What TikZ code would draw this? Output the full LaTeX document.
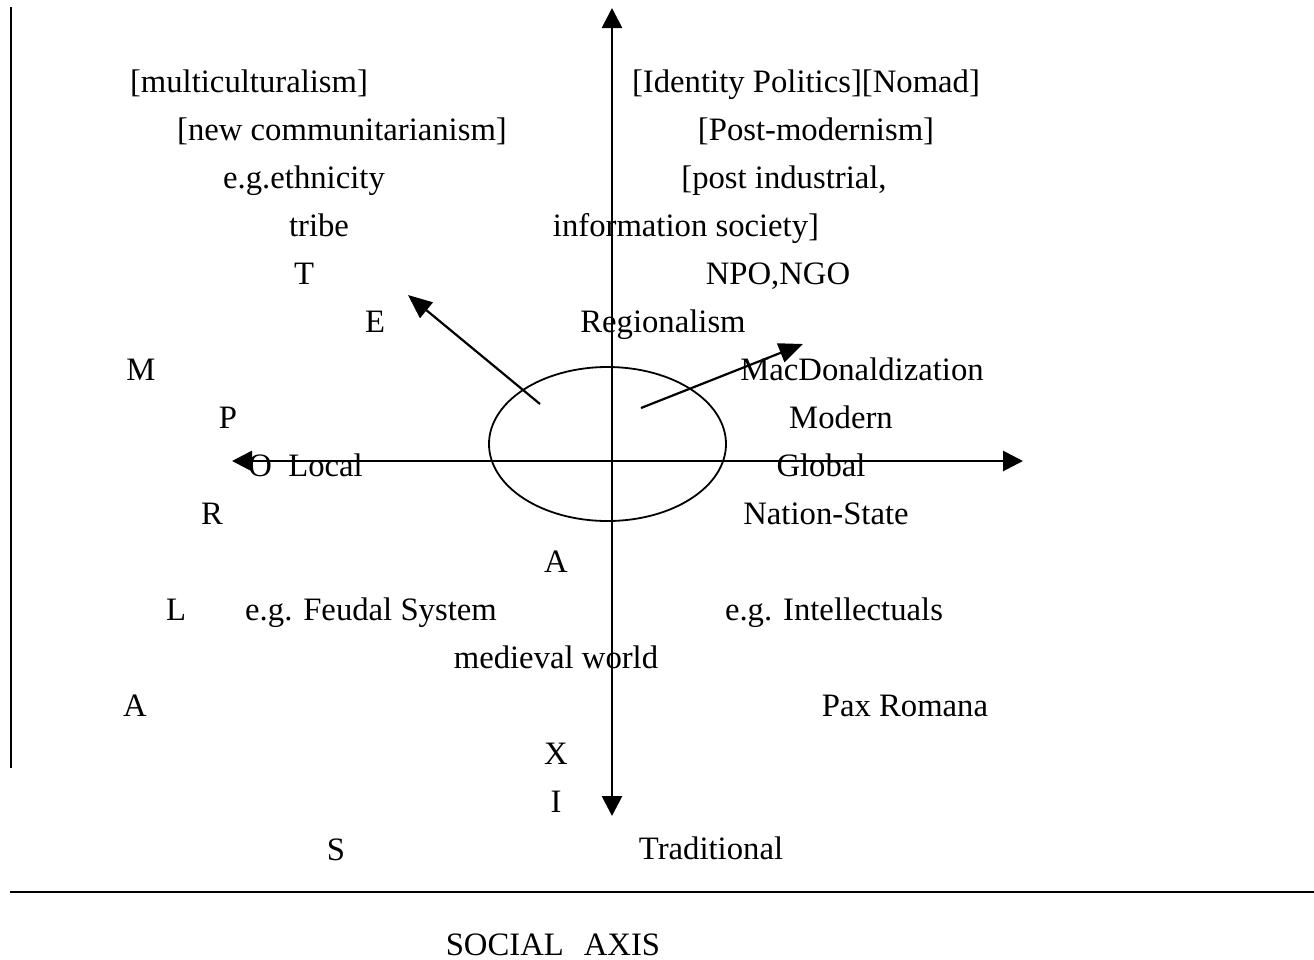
\documentclass[tikz,border=0pt]{standalone}
\usepackage{fontspec}
\setmainfont{Liberation Serif}
\usepackage{tikz}
\usetikzlibrary{arrows.meta, shapes.geometric}

\begin{document}
\begin{tikzpicture}[
  x=0.5pt, y=-0.5pt,
  lbl/.style={anchor=base, inner sep=0pt, font=\fontsize{16.35}{19}\selectfont},
  axis/.style={line width=1.4pt, -{Triangle[length=10pt, width=10pt]}},
  arr/.style={line width=1.1pt, -{Triangle[length=12pt, width=10pt]}},
  rule/.style={line width=1.4pt}
]
  \useasboundingbox (0,0) rectangle (1314,960);

  % frame lines
  \coordinate (ltop) at (11,7);
  \coordinate (lbot) at (11,768);
  \coordinate (rleft) at (10,892);
  \coordinate (rright) at (1314,892);
  \draw[rule] (ltop) -- (lbot);
  \draw[rule] (rleft) -- (rright);

  % axes
  \coordinate (origin) at (612,461);
  \coordinate (vtop) at (612,8);
  \coordinate (vbot) at (612,816);
  \coordinate (hleft) at (232,461);
  \coordinate (hright) at (1023,461);
  \draw[axis] (origin) -- (vtop);
  \draw[axis] (origin) -- (vbot);
  \draw[axis] (origin) -- (hleft);
  \draw[axis] (origin) -- (hright);

  \node[ellipse, draw, line width=0.9pt, inner sep=0pt,
    minimum width=118.5pt, minimum height=77pt] (core) at (607.5,444) {};

  \coordinate (upleft) at (540,404);
  \coordinate (upleftTip) at (408,295);
  \coordinate (upright) at (641,408);
  \coordinate (uprightTip) at (803,344);
  \draw[arr] (upleft) -- (upleftTip);
  \draw[arr] (upright) -- (uprightTip);

  % left side
  \node[lbl] (multi) at (249,92) {[multiculturalism]};
  \node[lbl] (commun) at (342,140) {[new communitarianism]};
  \node[lbl] (ethnic) at (304,188) {e.g.ethnicity};
  \node[lbl] (tribe) at (319,236) {tribe};
  \node[lbl] (tT) at (304,284) {T};
  \node[lbl] (tE) at (375,332) {E};
  \node[lbl] (tM) at (141,380) {M};
  \node[lbl] (tP) at (228,428) {P};
  \node[lbl, anchor=base west] (local) at (248,476) {O\ \ Local};
  \node[lbl] (tR) at (212,524) {R};
  \node[lbl] (tA) at (556,572) {A};
  \node[lbl] (tL) at (176,620) {L};
  \node[lbl] (feudal) at (371,620) {e.g. Feudal System};
  \node[lbl] (medieval) at (556,668) {medieval world};
  \node[lbl] (tA2) at (135,716) {A};
  \node[lbl] (tX) at (556,764) {X};
  \node[lbl] (tI) at (556,812) {I};
  \node[lbl] (tS) at (336,860) {S};

  % right side
  \node[lbl] (identity) at (806,92) {[Identity Politics][Nomad]};
  \node[lbl] (postmod) at (816,140) {[Post-modernism]};
  \node[lbl] (postind) at (784,188) {[post industrial,};
  \node[lbl] (infosoc) at (686,236) {information society]};
  \node[lbl] (npo) at (778,284) {NPO,NGO};
  \node[lbl] (region) at (663,332) {Regionalism};
  \node[lbl] (macdon) at (862,380) {MacDonaldization};
  \node[lbl] (modern) at (841,428) {Modern};
  \node[lbl] (global) at (821,476) {Global};
  \node[lbl] (nation) at (826,524) {Nation-State};
  \node[lbl] (intell) at (834,620) {e.g. Intellectuals};
  \node[lbl] (pax) at (905,716) {Pax Romana};
  \node[lbl] (trad) at (711,859) {Traditional};

  \node[lbl] (social) at (553,955) {SOCIAL\hspace{10pt}AXIS};
\end{tikzpicture}
\end{document}
